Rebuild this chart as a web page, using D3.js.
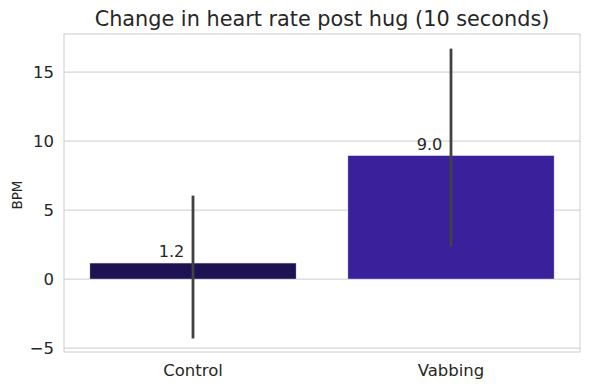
<!DOCTYPE html>
<html><head><meta charset="utf-8">
<script src="https://cdn.jsdelivr.net/npm/d3@7"></script>
<style>body{margin:0;background:#fff;} text{font-family:"DejaVu Sans",sans-serif;}</style>
</head><body>
<svg id="chart" width="590" height="390"></svg>
<script>
const categories = ["Control", "Vabbing"];
const means = [1.17, 8.97];
const ciLow = [-4.3, 2.35];
const ciHigh = [6.05, 16.7];
const colors = ["#1e1252", "#3a219b"];
const yTicks = [-5, 0, 5, 10, 15];
const title = "Change in heart rate post hug (10 seconds)";
const yLabel = "BPM";

const svg = d3.select("#chart");
const m = {l: 64, r: 580, t: 34, b: 352};
const xc = d3.scaleBand().domain(categories).range([m.l, m.r]);
const y = d3.scaleLinear().domain([-5.28, 17.76]).range([m.b, m.t]);

// grid
svg.append("g").selectAll("line").data(yTicks).join("line")
  .attr("x1", m.l).attr("x2", m.r)
  .attr("y1", d => y(d)).attr("y2", d => y(d))
  .attr("stroke", "#cccccc").attr("stroke-width", 1);

// bars
svg.append("g").selectAll("rect").data(categories).join("rect")
  .attr("x", d => xc(d) + xc.bandwidth() * 0.1)
  .attr("width", xc.bandwidth() * 0.8)
  .attr("y", (d, i) => y(Math.max(0, means[i])))
  .attr("height", (d, i) => Math.abs(y(means[i]) - y(0)))
  .attr("fill", (d, i) => colors[i])
  .attr("stroke", "#ffffff").attr("stroke-width", 0.6);

// error bars
svg.append("g").selectAll("line").data(categories).join("line")
  .attr("x1", d => xc(d) + xc.bandwidth() / 2).attr("x2", d => xc(d) + xc.bandwidth() / 2)
  .attr("y1", (d, i) => y(ciLow[i])).attr("y2", (d, i) => y(ciHigh[i]))
  .attr("stroke", "#424242").attr("stroke-width", 2.8);

// value labels
svg.append("g").selectAll("text").data(categories).join("text")
  .attr("x", d => xc(d) + xc.bandwidth() / 2 - 21.5)
  .attr("y", (d, i) => y(means[i]) - 5.5)
  .attr("text-anchor", "middle")
  .attr("font-size", "16.2px").attr("fill", "#262626")
  .text((d, i) => means[i].toFixed(1));

// spines
svg.append("rect").attr("x", m.l).attr("y", m.t).attr("width", m.r - m.l).attr("height", m.b - m.t)
  .attr("fill", "none").attr("stroke", "#cccccc").attr("stroke-width", 1);

// y ticks
const yAxis = svg.append("g").attr("transform", `translate(${m.l},0)`)
  .call(d3.axisLeft(y).tickValues(yTicks).tickSize(0).tickPadding(10).tickFormat(d => d < 0 ? "\u2212" + Math.abs(d) : d));
yAxis.select(".domain").remove();
yAxis.selectAll("text").attr("font-size", "16.5px").attr("fill", "#262626").attr("font-family", "DejaVu Sans");

// x ticks
const xAxis = svg.append("g").attr("transform", `translate(0,${m.b})`)
  .call(d3.axisBottom(xc).tickSize(0).tickPadding(12));
xAxis.select(".domain").remove();
xAxis.selectAll("text").attr("font-size", "16.5px").attr("fill", "#262626").attr("font-family", "DejaVu Sans");

// y label
svg.append("text").attr("transform", `translate(22,${(m.t + m.b) / 2 + 2}) rotate(-90)`)
  .attr("text-anchor", "middle").attr("font-size", "13.5px").attr("fill", "#262626").text(yLabel);

// title
svg.append("text").attr("x", (m.l + m.r) / 2).attr("y", 26)
  .attr("text-anchor", "middle").attr("font-size", "20.8px").attr("fill", "#262626").text(title);
</script>
</body></html>
